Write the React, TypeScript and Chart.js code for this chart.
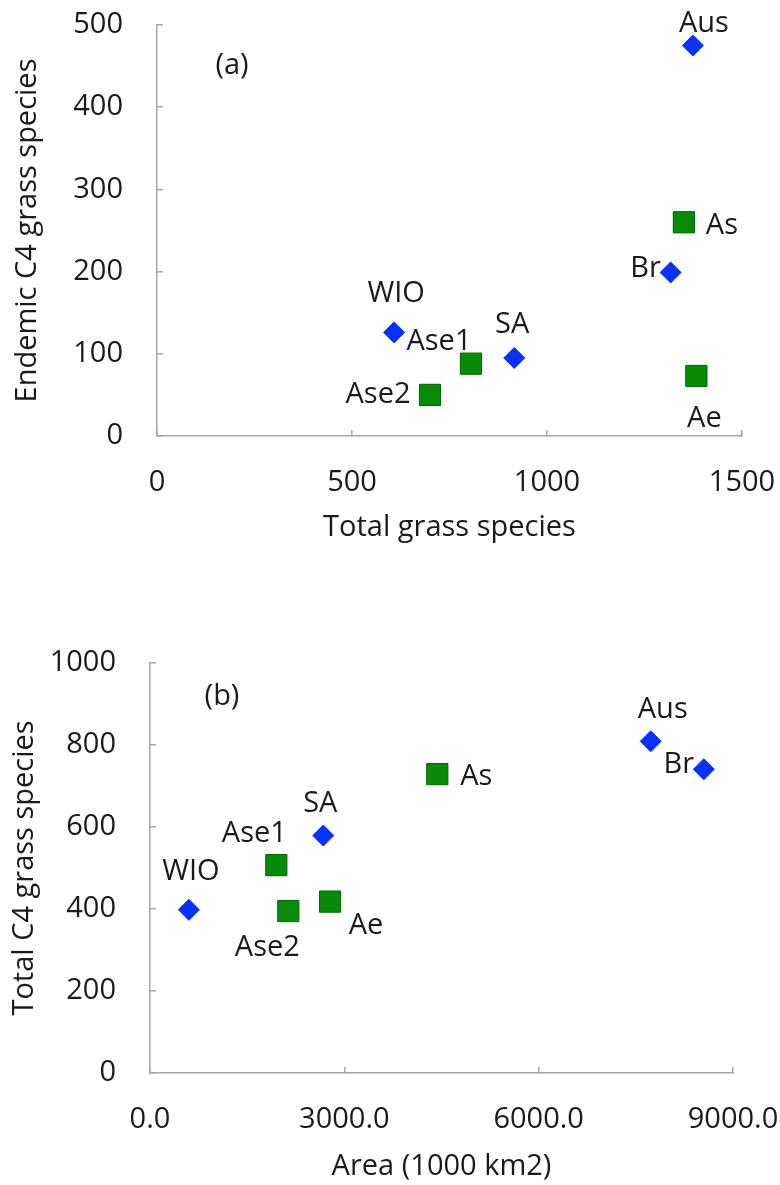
import React, { useEffect, useRef } from 'react';
import { Chart, registerables } from 'chart.js';

Chart.register(...registerables);

// ---------- Panel (a) data ----------
const blueRegionsA = ['WIO', 'SA', 'Br', 'Aus'];
const blueTotalA = [608, 916, 1317, 1374];
const blueEndemicA = [126, 95, 199, 475];

const greenRegionsA = ['Ase2', 'Ase1', 'As', 'Ae'];
const greenTotalA = [700, 805, 1351, 1383];
const greenEndemicA = [50, 88, 260, 73];

const xTicksA = [0, 500, 1000, 1500];
const yTicksA = [0, 100, 200, 300, 400, 500];

// ---------- Panel (b) data ----------
const blueRegionsB = ['WIO', 'SA', 'Aus', 'Br'];
const blueAreaB = [600, 2675, 7730, 8550];
const blueC4B = [398, 579, 809, 741];

const greenRegionsB = ['Ase1', 'Ase2', 'Ae', 'As'];
const greenAreaB = [1950, 2135, 2780, 4435];
const greenC4B = [507, 395, 418, 729];

const xTicksB = [0, 3000, 6000, 9000];
const yTicksB = [0, 200, 400, 600, 800, 1000];

// ---------- Styles (label offsets in pixels, kept apart from data) ----------
const labelOffsetsA: Record<string, [number, number]> = {
  WIO: [2, -39], SA: [-2, -33], Br: [-25, -4], Aus: [11, -22],
  Ase2: [-52, 0], Ase1: [-32, -22], As: [38, 3], Ae: [8, 43],
};
const labelOffsetsB: Record<string, [number, number]> = {
  WIO: [2, -38], SA: [-3, -32], Aus: [12, -32], Br: [-25, -4],
  Ase1: [-22, -31], Ase2: [-21, 37], Ae: [36, 24], As: [39, 3],
};

const FONT = "'Open Sans', sans-serif";
const FS = 29;
const TEXT = '#1a1a1a';
const AXIS = '#a6a6a6';
const BLUE = '#0532ff';
const GREEN = '#088c08';
const GREEN_EDGE = '#006400';

const pointLabels = {
  id: 'pointLabels',
  afterDatasetsDraw(chart: any, _args: any, opts: any) {
    const { ctx, chartArea } = chart;
    ctx.save();
    ctx.font = `${FS}px ${FONT}`;
    ctx.fillStyle = TEXT;
    ctx.textAlign = 'center';
    ctx.textBaseline = 'middle';
    chart.data.datasets.forEach((_ds: any, di: number) => {
      const meta = chart.getDatasetMeta(di);
      const names: string[] = opts.names[di];
      meta.data.forEach((el: any, i: number) => {
        const off = opts.offsets[names[i]] || [0, 0];
        ctx.fillText(names[i], el.x + off[0], el.y + off[1]);
      });
    });
    ctx.fillText(opts.panel, chartArea.left + opts.panelPos[0], chartArea.top + opts.panelPos[1]);
    ctx.restore();
  },
};

function toPoints(xs: number[], ys: number[]) {
  return xs.map((x, i) => ({ x, y: ys[i] }));
}

function zeroPad(scale: any) {
  scale.paddingTop = 0;
  scale.paddingBottom = 0;
  scale.paddingLeft = 0;
  scale.paddingRight = 0;
}

interface Cfg {
  blue: { x: number[]; y: number[]; names: string[] };
  green: { x: number[]; y: number[]; names: string[] };
  xTicks: number[];
  yTicks: number[];
  xTitle: string;
  yTitle: string;
  xFmt: (v: number) => string;
  area: { left: number; top: number; right: number; bottom: number };
  width: number;
  height: number;
  xTitlePad: number;
  yTitlePad: number;
  offsets: Record<string, [number, number]>;
  panel: string;
  panelPos: [number, number];
}

function buildChart(canvas: HTMLCanvasElement, c: Cfg) {
  const tickFont = { family: FONT, size: FS };
  return new Chart(canvas, {
    type: 'scatter',
    data: {
      datasets: [
        {
          data: toPoints(c.blue.x, c.blue.y),
          pointStyle: 'rectRot',
          pointRadius: 10.5,
          pointBackgroundColor: BLUE,
          pointBorderColor: BLUE,
          pointBorderWidth: 1,
        },
        {
          data: toPoints(c.green.x, c.green.y),
          pointStyle: 'rect',
          pointRadius: 15,
          pointBackgroundColor: GREEN,
          pointBorderColor: GREEN_EDGE,
          pointBorderWidth: 1,
        },
      ],
    },
    options: {
      responsive: false,
      animation: false,
      events: [],
      layout: {
        padding: {
          left: 0,
          top: c.area.top,
          right: c.width - c.area.right,
          bottom: 0,
        },
      },
      plugins: {
        legend: { display: false },
        tooltip: { enabled: false },
        pointLabels: {
          names: [c.blue.names, c.green.names],
          offsets: c.offsets,
          panel: c.panel,
          panelPos: c.panelPos,
        },
      } as any,
      scales: {
        x: {
          type: 'linear',
          min: c.xTicks[0],
          max: c.xTicks[c.xTicks.length - 1],
          afterBuildTicks: (scale: any) => {
            scale.ticks = c.xTicks.map((v) => ({ value: v }));
          },
          afterFit: (scale: any) => {
            scale.height = c.height - c.area.bottom;
            zeroPad(scale);
          },
          border: { display: true, color: AXIS, width: 1.5 },
          grid: { drawOnChartArea: false, drawTicks: true, tickLength: -6, color: AXIS, lineWidth: 1.5 },
          ticks: {
            font: tickFont,
            color: TEXT,
            padding: 35,
            maxRotation: 0,
            autoSkip: false,
            callback: (v: any) => c.xFmt(Number(v)),
          },
          title: {
            display: true,
            text: c.xTitle,
            font: tickFont,
            color: TEXT,
            padding: { top: 0, bottom: c.xTitlePad },
          },
        },
        y: {
          type: 'linear',
          min: c.yTicks[0],
          max: c.yTicks[c.yTicks.length - 1],
          afterBuildTicks: (scale: any) => {
            scale.ticks = c.yTicks.map((v) => ({ value: v }));
          },
          afterFit: (scale: any) => {
            scale.width = c.area.left;
            zeroPad(scale);
          },
          border: { display: true, color: AXIS, width: 1.5 },
          grid: { drawOnChartArea: false, drawTicks: true, tickLength: -6, color: AXIS, lineWidth: 1.5 },
          ticks: {
            font: tickFont,
            color: TEXT,
            padding: 40,
            autoSkip: false,
            callback: (v: any) => String(v),
          },
          title: {
            display: true,
            text: c.yTitle,
            font: tickFont,
            color: TEXT,
            padding: { top: c.yTitlePad, bottom: 0 },
          },
        },
      },
    },
    plugins: [pointLabels as any],
  });
}

function Panel({ cfg, top }: { cfg: Cfg; top: number }) {
  const ref = useRef<HTMLCanvasElement>(null);
  useEffect(() => {
    if (!ref.current) return;
    const chart = buildChart(ref.current, cfg);
    return () => chart.destroy();
  }, []);
  return (
    <div style={{ position: 'absolute', left: 0, top, width: cfg.width, height: cfg.height }}>
      <canvas ref={ref} width={cfg.width} height={cfg.height} style={{ display: 'block' }} />
    </div>
  );
}

const cfgA: Cfg = {
  blue: { x: blueTotalA, y: blueEndemicA, names: blueRegionsA },
  green: { x: greenTotalA, y: greenEndemicA, names: greenRegionsA },
  xTicks: xTicksA,
  yTicks: yTicksA,
  xTitle: 'Total grass species',
  yTitle: 'Endemic C4 grass species',
  xFmt: (v) => String(v),
  area: { left: 157, top: 25, right: 742, bottom: 436 },
  width: 780,
  height: 560,
  xTitlePad: 14.6,
  yTitlePad: 10.6,
  offsets: labelOffsetsA,
  panel: '(a)',
  panelPos: [75, 41],
};

const cfgB: Cfg = {
  blue: { x: blueAreaB, y: blueC4B, names: blueRegionsB },
  green: { x: greenAreaB, y: greenC4B, names: greenRegionsB },
  xTicks: xTicksB,
  yTicks: yTicksB,
  xTitle: 'Area (1000 km2)',
  yTitle: 'Total C4 grass species',
  xFmt: (v) => v.toFixed(1),
  area: { left: 150, top: 73, right: 733, bottom: 483 },
  width: 780,
  height: 595,
  xTitlePad: 0.6,
  yTitlePad: 7.6,
  offsets: labelOffsetsB,
  panel: '(b)',
  panelPos: [72, 34],
};

export default function App() {
  return (
    <div style={{ position: 'absolute', left: 0, top: 0, width: 780, height: 1185, background: '#fff' }}>
      <Panel cfg={cfgA} top={0} />
      <Panel cfg={cfgB} top={590} />
    </div>
  );
}
